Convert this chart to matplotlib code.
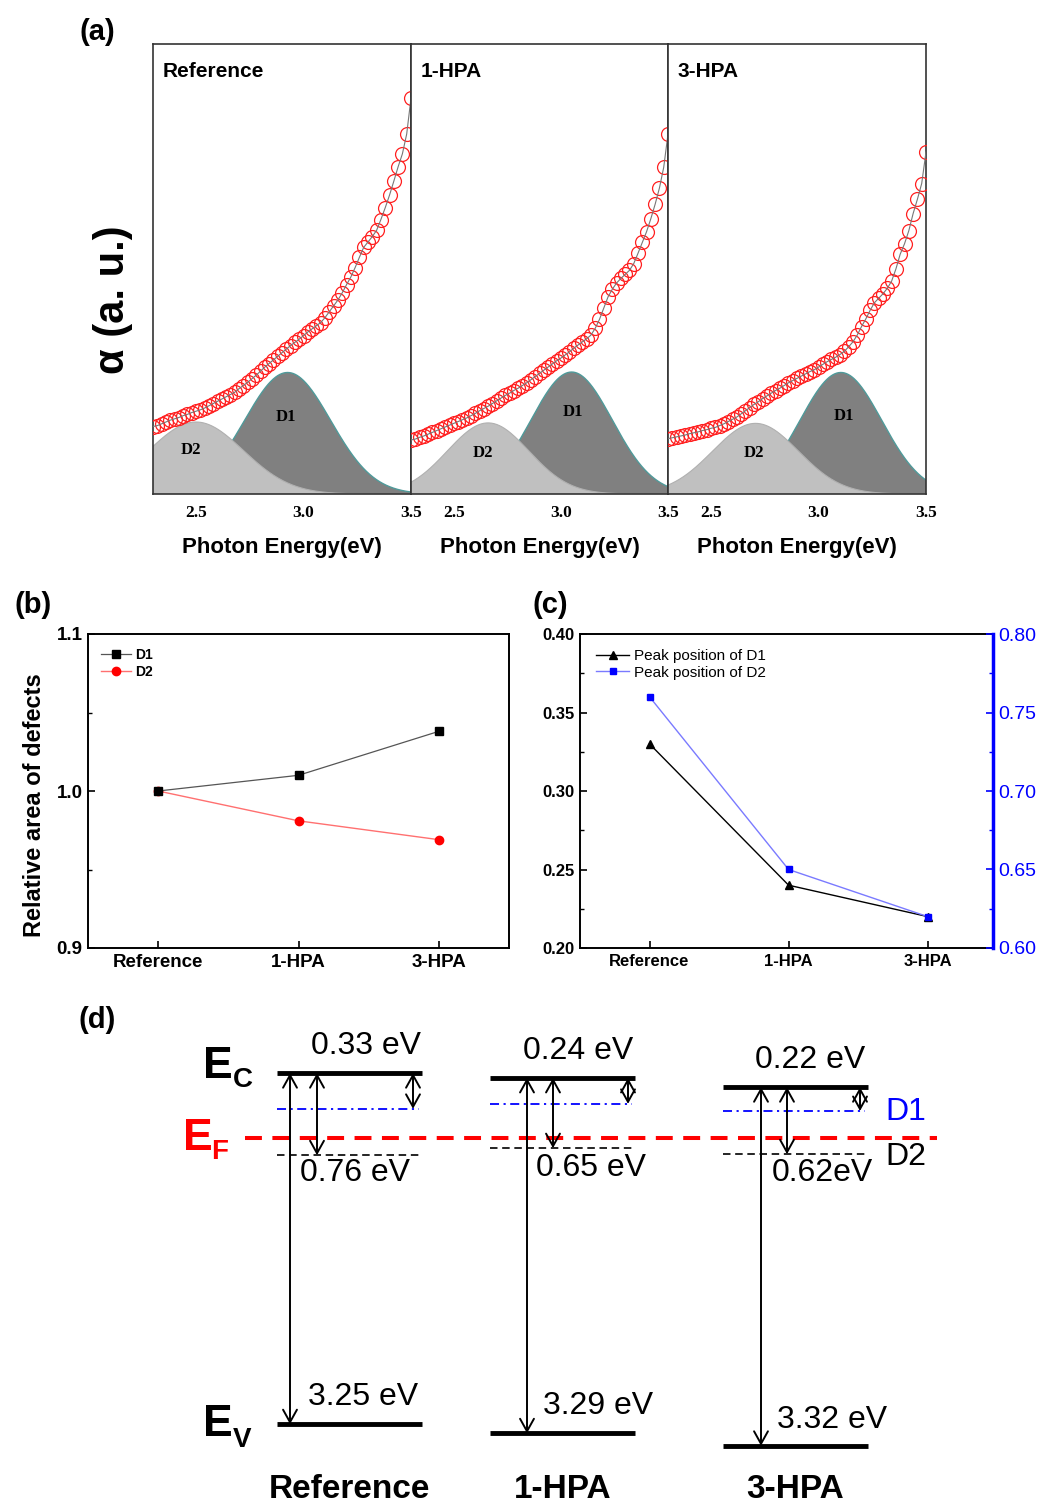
import numpy as np
import matplotlib
matplotlib.use('Agg')
import matplotlib.pyplot as plt
from matplotlib.ticker import MultipleLocator

# ---------------- data ----------------
samples = ['Reference', '1-HPA', '3-HPA']

energy = [2.30, 2.32, 2.34, 2.36, 2.38, 2.40, 2.42, 2.44, 2.46, 2.48,
          2.50, 2.52, 2.54, 2.56, 2.58, 2.60, 2.62, 2.64, 2.66, 2.68,
          2.70, 2.72, 2.74, 2.76, 2.78, 2.80, 2.82, 2.84, 2.86, 2.88,
          2.90, 2.92, 2.94, 2.96, 2.98, 3.00, 3.02, 3.04, 3.06, 3.08,
          3.10, 3.12, 3.14, 3.16, 3.18, 3.20, 3.22, 3.24, 3.26, 3.28,
          3.30, 3.32, 3.34, 3.36, 3.38, 3.40, 3.42, 3.44, 3.46, 3.48, 3.50]

alpha_ref = [0.150, 0.152, 0.156, 0.160, 0.164, 0.167, 0.170, 0.174, 0.177, 0.181,
             0.184, 0.187, 0.191, 0.196, 0.201, 0.206, 0.211, 0.216, 0.221, 0.226,
             0.234, 0.241, 0.248, 0.256, 0.264, 0.273, 0.282, 0.290, 0.298, 0.306,
             0.314, 0.322, 0.330, 0.337, 0.344, 0.352, 0.360, 0.367, 0.374, 0.381,
             0.392, 0.405, 0.418, 0.431, 0.447, 0.465, 0.482, 0.503, 0.526, 0.548,
             0.560, 0.572, 0.586, 0.610, 0.636, 0.664, 0.695, 0.727, 0.756, 0.800, 0.880]

alpha_1hpa = [0.120, 0.122, 0.126, 0.129, 0.133, 0.137, 0.141, 0.145, 0.149, 0.153,
              0.157, 0.161, 0.165, 0.169, 0.174, 0.179, 0.185, 0.190, 0.195, 0.201,
              0.207, 0.213, 0.219, 0.224, 0.230, 0.235, 0.241, 0.247, 0.254, 0.261,
              0.268, 0.275, 0.282, 0.289, 0.296, 0.302, 0.309, 0.316, 0.324, 0.331,
              0.338, 0.345, 0.353, 0.368, 0.388, 0.413, 0.438, 0.455, 0.469, 0.479,
              0.488, 0.497, 0.512, 0.535, 0.559, 0.583, 0.612, 0.644, 0.680, 0.726, 0.800]

alpha_3hpa = [0.123, 0.125, 0.127, 0.129, 0.131, 0.134, 0.136, 0.138, 0.141, 0.143,
              0.146, 0.148, 0.152, 0.156, 0.161, 0.166, 0.171, 0.178, 0.185, 0.192,
              0.199, 0.205, 0.212, 0.218, 0.224, 0.230, 0.235, 0.241, 0.247, 0.252,
              0.257, 0.262, 0.267, 0.272, 0.276, 0.282, 0.288, 0.294, 0.299, 0.304,
              0.310, 0.317, 0.327, 0.338, 0.353, 0.372, 0.389, 0.408, 0.425, 0.435,
              0.445, 0.457, 0.473, 0.500, 0.533, 0.556, 0.585, 0.623, 0.655, 0.690, 0.760]

# Gaussian defect components (center eV, height a.u., sigma eV)
d1_center = [2.926, 3.050, 3.104]
d1_height = [0.270, 0.271, 0.270]
d1_sigma = [0.200, 0.190, 0.190]
d2_center = [2.500, 2.660, 2.707]
d2_height = [0.160, 0.158, 0.157]
d2_sigma = [0.220, 0.190, 0.200]

# (b) relative area
area_d1 = [1.000, 1.010, 1.038]
area_d2 = [1.000, 0.981, 0.969]

# (c) peak positions
peak_d1 = [0.33, 0.24, 0.22]
peak_d2 = [0.76, 0.65, 0.62]

# (d) band diagram (eV, relative to E_F)
ec_level = [0.60, 0.556, 0.47]
band_gap = [3.25, 3.29, 3.32]
d1_depth = [0.33, 0.24, 0.22]
d2_depth = [0.76, 0.65, 0.62]

# ---------------- figure ----------------
W, H = 1057, 1503
fig = plt.figure(figsize=(W / 100, H / 100), dpi=100)
SANS = ['Liberation Sans', 'DejaVu Sans']
SERIF = ['Liberation Serif', 'DejaVu Serif']


def box(x0, y0, x1, y1):
    return [x0 / W, 1 - y1 / H, (x1 - x0) / W, (y1 - y0) / H]


def ftext(x, y, s, **kw):
    kw.setdefault('ha', 'center')
    kw.setdefault('va', 'center')
    kw.setdefault('family', SANS)
    fig.text(x / W, 1 - y / H, s, **kw)


# ---------------- panel (a) ----------------
a_boxes = [(153, 44, 411, 494), (411, 44, 668, 494), (668, 44, 926, 494)]
alphas = [alpha_ref, alpha_1hpa, alpha_3hpa]
d1_lab = [(2.92, 0.171), (3.057, 0.182), (3.118, 0.173)]
d2_lab = [(2.478, 0.098), (2.636, 0.091), (2.70, 0.091)]
xs = np.linspace(2.3, 3.5, 400)
for i in range(3):
    ax = fig.add_axes(box(*a_boxes[i]))
    g1 = d1_height[i] * np.exp(-(xs - d1_center[i]) ** 2 / (2 * d1_sigma[i] ** 2))
    g2 = d2_height[i] * np.exp(-(xs - d2_center[i]) ** 2 / (2 * d2_sigma[i] ** 2))
    ax.fill_between(xs, 0, g1, facecolor='#808080', edgecolor='none', zorder=1)
    ax.plot(xs, g1, color='#4f9a9a', lw=1.0, zorder=1.5)
    ax.fill_between(xs, 0, g2, facecolor='#c0c0c0', edgecolor='none', zorder=2)
    ax.plot(xs, g2, color='#b0b0b0', lw=0.8, zorder=2.5)
    ax.plot(energy, alphas[i], ls='none', marker='o', ms=10, mfc='none',
            mec='#ff2020', mew=0.9, zorder=3)
    ax.plot(energy, alphas[i], color='#777777', lw=0.8, zorder=4)
    ax.text(*d1_lab[i], 'D1', family=SERIF, fontweight='bold', fontsize=12,
            ha='center', va='center', zorder=5)
    ax.text(*d2_lab[i], 'D2', family=SERIF, fontweight='bold', fontsize=12,
            ha='center', va='center', zorder=5)
    ax.text(0.038, 0.94, samples[i], transform=ax.transAxes, family=SANS,
            fontweight='bold', fontsize=15, ha='left', va='center')
    ax.set_xlim(2.3, 3.5)
    ax.set_ylim(0, 1)
    ax.set_yticks([])
    ax.set_xticks([2.5, 3.0, 3.5])
    ax.set_xticklabels(['2.5', '3.0', '3.5'], family=SERIF, fontweight='bold', fontsize=12.5)
    ax.tick_params(axis='x', length=0, pad=8)
    for s in ax.spines.values():
        s.set_color('#333333')
        s.set_linewidth(1.2)
    cx = (a_boxes[i][0] + a_boxes[i][2]) / 2
    ftext(cx, 548, 'Photon Energy(eV)', fontsize=16, fontweight='bold')

ftext(113, 300, 'α (a. u.)', fontsize=30, fontweight='bold', rotation=90)
ftext(97, 32, '(a)', fontsize=21, fontweight='bold')

# ---------------- panel (b) ----------------
axb = fig.add_axes(box(88, 634, 509, 948))
xpos = np.arange(len(samples))
axb.plot(xpos, area_d2, color='#ff7070', lw=1.0, marker='o', ms=6,
         mfc='red', mec='red', zorder=3, label='D2')
axb.plot(xpos, area_d1, color='#555555', lw=0.9, marker='s', ms=6,
         mfc='black', mec='black', zorder=4, label='D1')
axb.set_xlim(-0.5, 2.5)
axb.set_ylim(0.9, 1.1)
axb.set_xticks(xpos)
axb.set_xticklabels(samples)
axb.set_yticks([0.9, 1.0, 1.1])
axb.yaxis.set_minor_locator(MultipleLocator(0.05))
axb.tick_params(axis='both', which='both', direction='in', top=False, right=False)
axb.tick_params(axis='both', which='major', length=5, width=1.2, labelsize=13.5, pad=4)
axb.tick_params(axis='y', which='minor', length=3, width=1.0)
for lab in axb.get_xticklabels() + axb.get_yticklabels():
    lab.set_fontweight('bold')
    lab.set_family(SANS)
for s in axb.spines.values():
    s.set_linewidth(1.4)
h, l = axb.get_legend_handles_labels()
axb.legend(h[::-1], l[::-1], loc='upper left', frameon=False,
           prop={'family': SANS, 'weight': 'bold', 'size': 10},
           handlelength=2.2, handletextpad=0.3, labelspacing=0.2,
           borderaxespad=0.5, bbox_to_anchor=(0.0, 0.995))
ftext(35, 805, 'Relative area of defects', fontsize=17, fontweight='bold', rotation=90)
ftext(33, 605, '(b)', fontsize=21, fontweight='bold')

# ---------------- panel (c) ----------------
axc = fig.add_axes(box(580, 634, 993, 948))
axc.plot(xpos, peak_d1, color='black', lw=1.0, marker='^', ms=6,
         mfc='black', mec='black', label='Peak position of D1')
axc.set_xlim(-0.5, 2.47)
axc.set_ylim(0.20, 0.40)
axc.set_xticks(xpos)
axc.set_xticklabels(samples)
axc.set_yticks([0.20, 0.25, 0.30, 0.35, 0.40])
axc.yaxis.set_minor_locator(MultipleLocator(0.025))
axc.tick_params(axis='both', which='both', direction='in', top=False, right=False)
axc.tick_params(axis='both', which='major', length=5, width=1.2, labelsize=12, pad=4)
axc.tick_params(axis='y', which='minor', length=3, width=1.0)
for lab in axc.get_xticklabels() + axc.get_yticklabels():
    lab.set_fontweight('bold')
    lab.set_family(SANS)
for s in axc.spines.values():
    s.set_linewidth(1.4)
axc2 = axc.twinx()
axc2.plot(xpos, peak_d2, color='#7a7aff', lw=1.0, marker='s', ms=5,
          mfc='blue', mec='blue', label='Peak position of D2')
axc2.set_ylim(0.60, 0.80)
axc2.set_yticks([0.60, 0.65, 0.70, 0.75, 0.80])
axc2.yaxis.set_minor_locator(MultipleLocator(0.025))
axc2.tick_params(axis='y', which='both', direction='in', colors='blue')
axc2.tick_params(axis='y', which='major', length=5, width=1.2, labelsize=14, pad=4)
axc2.tick_params(axis='y', which='minor', length=3, width=1.0)
for lab in axc2.get_yticklabels():
    lab.set_family(SANS)
axc2.spines['right'].set_color('blue')
axc2.spines['right'].set_linewidth(2.5)
for k in ['left', 'top', 'bottom']:
    axc2.spines[k].set_visible(False)
h1, l1 = axc.get_legend_handles_labels()
h2, l2 = axc2.get_legend_handles_labels()
axc2.legend(h1 + h2, l1 + l2, loc='upper left', frameon=False,
            prop={'family': SANS, 'size': 11},
            handlelength=2.2, handletextpad=0.3, labelspacing=0.15,
            borderaxespad=0.5, bbox_to_anchor=(0.005, 0.995))
ftext(550, 605, '(c)', fontsize=21, fontweight='bold')

# ---------------- panel (d) ----------------
EF_PY = 1138.0
PX_PER_EV = 108.0


def e_of(py):
    return (EF_PY - py) / PX_PER_EV


axd = fig.add_axes(box(0, 1000, W, H))
axd.set_xlim(0, W)
axd.set_ylim(e_of(H), e_of(1000))
axd.axis('off')

level_left = [277, 490, 723]
level_w = 145
arr_long = [13, 37, 38]
arr_d2 = [40, 63, 64]
arr_d1 = [136, 138, 137]
lab_ec = [(366, 1046), (578, 1051), (810, 1060)]
lab_d2 = [(355, 1173), (591, 1168), (822, 1173)]
lab_gap = [(363, 1397), (598, 1406), (832, 1420)]
d2_fmt = ['{:.2f} eV', '{:.2f} eV', '{:.2f}eV']

# Fermi level
axd.plot([245, 937], [0, 0], color='red', lw=2.9, ls=(0, (4.2, 2.6)),
         solid_capstyle='butt', dash_capstyle='butt', zorder=2)

arrow_kw = dict(arrowstyle='<->,head_length=0.45,head_width=0.25', lw=1.4,
                color='black', shrinkA=0, shrinkB=0, mutation_scale=20)
for i in range(3):
    x0 = level_left[i]
    ec = ec_level[i]
    ev = ec - band_gap[i]
    d1 = ec - d1_depth[i]
    d2 = ec - d2_depth[i]
    axd.plot([x0, x0 + level_w], [ec, ec], color='black', lw=3.5, solid_capstyle='butt', zorder=3)
    axd.plot([x0, x0 + level_w], [ev, ev], color='black', lw=3.5, solid_capstyle='butt', zorder=3)
    axd.plot([x0, x0 + level_w - 3], [d1, d1], color='blue', lw=1.3,
             ls=(0, (5, 2.5, 1.2, 2.5)), zorder=2)
    axd.plot([x0, x0 + level_w], [d2, d2], color='black', lw=1.2,
             ls=(0, (4.5, 2.8)), zorder=2)
    axd.annotate('', xy=(x0 + arr_long[i], ev), xytext=(x0 + arr_long[i], ec), arrowprops=arrow_kw)
    axd.annotate('', xy=(x0 + arr_d2[i], d2), xytext=(x0 + arr_d2[i], ec), arrowprops=arrow_kw)
    axd.annotate('', xy=(x0 + arr_d1[i], d1), xytext=(x0 + arr_d1[i], ec), arrowprops=arrow_kw)
    axd.text(lab_ec[i][0], e_of(lab_ec[i][1]), '{:.2f} eV'.format(d1_depth[i]),
             fontsize=23, family=SANS, ha='center', va='center')
    axd.text(lab_d2[i][0], e_of(lab_d2[i][1]), d2_fmt[i].format(d2_depth[i]),
             fontsize=23, family=SANS, ha='center', va='center')
    axd.text(lab_gap[i][0], e_of(lab_gap[i][1]), '{:.2f} eV'.format(band_gap[i]),
             fontsize=23, family=SANS, ha='center', va='center')
    axd.text(x0 + level_w / 2, e_of(1490), samples[i], fontsize=24, family=SANS,
             fontweight='bold', ha='center', va='center')

# level names
axd.text(218, e_of(1066), 'E', fontsize=32, fontweight='bold', family=SANS, ha='center', va='center')
axd.text(243, e_of(1080), 'C', fontsize=20, fontweight='bold', family=SANS, ha='center', va='center')
axd.text(198, e_of(1138), 'E', fontsize=32, fontweight='bold', family=SANS, ha='center', va='center', color='red')
axd.text(220, e_of(1152), 'F', fontsize=20, fontweight='bold', family=SANS, ha='center', va='center', color='red')
axd.text(218, e_of(1424), 'E', fontsize=32, fontweight='bold', family=SANS, ha='center', va='center')
axd.text(242, e_of(1440), 'V', fontsize=20, fontweight='bold', family=SANS, ha='center', va='center')
axd.text(906, e_of(1112), 'D1', fontsize=23, family=SANS, ha='center', va='center', color='blue')
axd.text(906, e_of(1157), 'D2', fontsize=23, family=SANS, ha='center', va='center', color='black')

ftext(97, 1020, '(d)', fontsize=21, fontweight='bold')

fig.savefig('out.png', dpi=100)
